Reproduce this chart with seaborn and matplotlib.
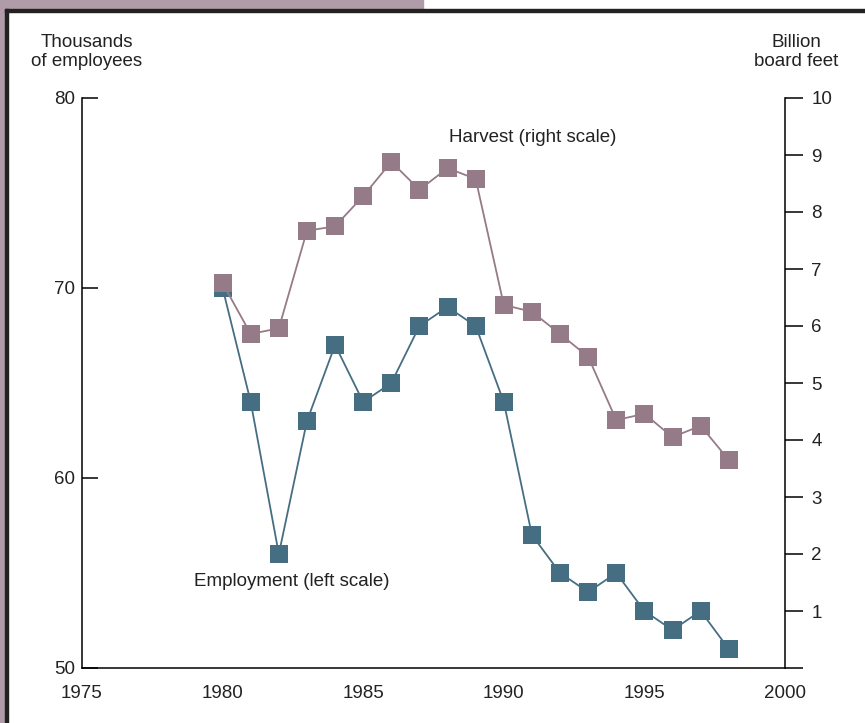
import matplotlib
matplotlib.use("Agg")
import matplotlib.pyplot as plt
import seaborn as sns
from matplotlib.patches import Rectangle

# data
years = list(range(1980, 1999))
employment = [70, 64, 56, 63, 67, 64, 65, 68, 69, 68, 64, 57, 55, 54, 55, 53, 52, 53, 51]
harvest = [6.75, 5.86, 5.96, 7.67, 7.75, 8.28, 8.88, 8.39, 8.77, 8.58,
           6.37, 6.25, 5.86, 5.46, 4.35, 4.46, 4.05, 4.25, 3.65]
left_ticks = [50, 60, 70, 80]
right_ticks = list(range(0, 11))
right_labels = [""] + [str(i) for i in range(1, 11)]
x_ticks = [1975, 1980, 1985, 1990, 1995, 2000]

emp_color = "#466e82"
harv_color = "#957b88"
frame_color = "#b09ca8"

sns.set_style("white")
plt.rcParams["font.family"] = ["Liberation Sans", "DejaVu Sans"]
plt.rcParams["font.size"] = 13.5

fig = plt.figure(figsize=(8.65, 7.23), dpi=100)
ax = fig.add_axes([82 / 865, 55 / 723, 703 / 865, 570 / 723])
ax2 = ax.twinx()

sns.lineplot(x=years, y=employment, ax=ax, color=emp_color, marker="s",
             markersize=12.5, markeredgewidth=0, linewidth=1.3)
sns.lineplot(x=years, y=harvest, ax=ax2, color=harv_color, marker="s",
             markersize=12.5, markeredgewidth=0, linewidth=1.3)

ax.set_xlim(1975, 2000)
ax.set_ylim(50, 80)
ax2.set_ylim(0, 10)
ax.set_xticks(x_ticks)
ax.set_yticks(left_ticks)
ax2.set_yticks(right_ticks)
ax2.set_yticklabels(right_labels)
ax.set_xlabel("")
ax.set_ylabel("")
ax2.set_ylabel("")

for a in (ax, ax2):
    a.spines["top"].set_visible(False)
    for s in ("left", "right", "bottom"):
        a.spines[s].set_linewidth(1.1)
        a.spines[s].set_color("black")
    a.set_facecolor("none")
ax.spines["right"].set_visible(False)
ax2.spines["left"].set_visible(False)
ax2.spines["bottom"].set_visible(False)

ax.tick_params(axis="x", direction="in", length=11, width=1.1, pad=12,
               labelsize=13.5, labelcolor="#222222", colors="black")
ax.tick_params(axis="y", direction="in", length=11.5, width=1.1, pad=5,
               labelsize=13.5, labelcolor="#222222", colors="black")
ax2.tick_params(axis="y", direction="out", length=13, width=1.1, pad=6,
                labelsize=13.5, labelcolor="#222222", colors="black")
ax.grid(False)
ax2.grid(False)

# axis titles and series labels
fig.text(87 / 865, 1 - 52 / 723, "Thousands\nof employees", ha="center",
         va="center", fontsize=13.5, linespacing=1.15, color="#222222")
fig.text(796 / 865, 1 - 52 / 723, "Billion\nboard feet", ha="center",
         va="center", fontsize=13.5, linespacing=1.15, color="#222222")
fig.text(533 / 865, 1 - 138 / 723, "Harvest (right scale)", ha="center",
         va="center", fontsize=13.5, color="#222222")
fig.text(292 / 865, 1 - 582 / 723, "Employment (left scale)", ha="center",
         va="center", fontsize=13.5, color="#222222")

# decorative frame
fig.patches.append(Rectangle((0, 1 - 9 / 723), 423 / 865, 9 / 723,
                             transform=fig.transFigure, color=frame_color, zorder=0))
fig.patches.append(Rectangle((0, 0), 5 / 865, 1,
                             transform=fig.transFigure, color=frame_color, zorder=0))
fig.patches.append(Rectangle((5 / 865, 1 - 12 / 723), 1 - 5 / 865, 3 / 723,
                             transform=fig.transFigure, color="#222222", zorder=1))
fig.patches.append(Rectangle((5 / 865, 0), 3 / 865, 1 - 9 / 723,
                             transform=fig.transFigure, color="#222222", zorder=1))

fig.savefig("out.png", dpi=100)
